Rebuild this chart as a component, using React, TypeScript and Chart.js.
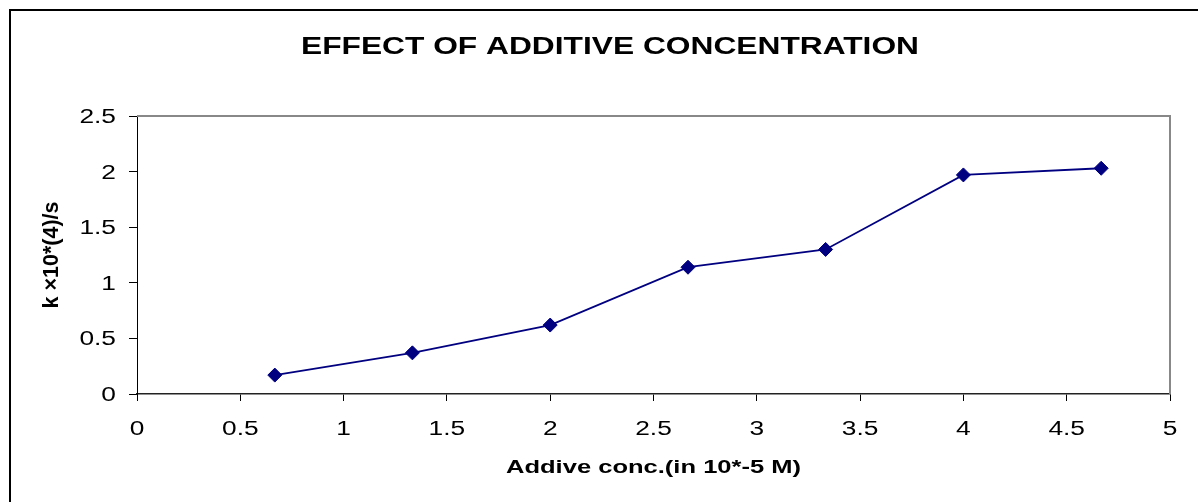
import React, { useEffect, useRef } from "react";
import { Chart, registerables } from "chart.js";

Chart.register(...registerables);

// ---- data ----
const concentrations: number[] = [0.667, 1.333, 2.0, 2.667, 3.333, 4.0, 4.667];
const rateConstants: number[] = [0.17, 0.37, 0.62, 1.14, 1.3, 1.97, 2.03];
const xTickValues: number[] = [0, 0.5, 1, 1.5, 2, 2.5, 3, 3.5, 4, 4.5, 5];
const yTickValues: number[] = [0, 0.5, 1, 1.5, 2, 2.5];
const chartTitle = "EFFECT OF ADDITIVE CONCENTRATION";
const xAxisTitle = "Addive conc.(in 10*-5 M)";
const yAxisTitle = "k ×10*(4)/s";

const FONT = '"Liberation Sans", Arial, sans-serif';

function drawStretched(
  ctx: CanvasRenderingContext2D,
  text: string,
  x: number,
  y: number,
  font: string,
  sx: number,
  align: CanvasTextAlign
) {
  ctx.save();
  ctx.translate(x, y);
  ctx.scale(sx, 1);
  ctx.font = font;
  ctx.textAlign = align;
  ctx.textBaseline = "alphabetic";
  ctx.fillStyle = "#000";
  ctx.fillText(text, 0, 0);
  ctx.restore();
}

const textPlugin = {
  id: "excelText",
  beforeDraw(chart: any) {
    const ctx: CanvasRenderingContext2D = chart.ctx;
    ctx.save();
    ctx.fillStyle = "#fff";
    ctx.fillRect(0, 0, chart.width, chart.height);
    ctx.fillStyle = "#000";
    ctx.fillRect(9, 9, chart.width - 9, 2);
    ctx.fillRect(9, 9, 2, chart.height - 9);
    ctx.restore();
  },
  afterDraw(chart: any) {
    const ctx: CanvasRenderingContext2D = chart.ctx;
    const { left, right, top, bottom } = chart.chartArea;
    // plot frame (top and right)
    ctx.save();
    ctx.strokeStyle = "#888";
    ctx.lineWidth = 2;
    ctx.beginPath();
    ctx.moveTo(left, top);
    ctx.lineTo(right, top);
    ctx.lineTo(right, bottom);
    ctx.stroke();
    ctx.restore();

    // title
    drawStretched(ctx, chartTitle, 610, 54, `bold 23.5px ${FONT}`, 1.35, "center");

    // y tick labels
    const ys = chart.scales.y;
    ys.ticks.forEach((t: any) => {
      const py = ys.getPixelForValue(t.value);
      drawStretched(ctx, String(t.value), left - 21, py + 7, `19.5px ${FONT}`, 1.35, "right");
    });
    // x tick labels
    const xs = chart.scales.x;
    xs.ticks.forEach((t: any) => {
      const px = xs.getPixelForValue(t.value);
      drawStretched(ctx, String(t.value), px, bottom + 41, `19.5px ${FONT}`, 1.35, "center");
    });

    // x axis title
    drawStretched(ctx, xAxisTitle, (left + right) / 2, bottom + 79, `bold 18.5px ${FONT}`, 1.38, "center");

    // y axis title (rotated)
    ctx.save();
    ctx.translate(left - 79, (top + bottom) / 2);
    ctx.rotate(-Math.PI / 2);
    ctx.font = `bold 21.5px ${FONT}`;
    ctx.textAlign = "center";
    ctx.textBaseline = "alphabetic";
    ctx.fillStyle = "#000";
    ctx.fillText(yAxisTitle, 0, 0);
    ctx.restore();
  },
};

export default function App() {
  const canvasRef = useRef<HTMLCanvasElement | null>(null);

  useEffect(() => {
    document.body.style.margin = "0";
    document.body.style.overflow = "hidden";
    const canvas = canvasRef.current;
    if (!canvas) return;
    const chart = new Chart(canvas, {
      type: "scatter",
      data: {
        datasets: [
          {
            data: concentrations.map((x, i) => ({ x, y: rateConstants[i] })),
            showLine: true,
            borderColor: "#000080",
            backgroundColor: "#000080",
            borderWidth: 1.8,
            pointStyle: "rectRot",
            pointRadius: 7,
            pointHoverRadius: 7,
            pointBorderWidth: 1,
            pointBorderColor: "#000080",
            pointBackgroundColor: "#000080",
          },
        ],
      },
      options: {
        animation: false,
        responsive: true,
        maintainAspectRatio: false,
        layout: { padding: { left: 0, top: 116, right: 28, bottom: 0 } },
        plugins: {
          legend: { display: false },
          title: { display: false },
          tooltip: { enabled: false },
        },
        scales: {
          x: {
            type: "linear",
            min: 0,
            max: 5,
            afterBuildTicks: (s: any) => {
              s.ticks = xTickValues.map((v) => ({ value: v }));
            },
            ticks: { display: false },
            grid: {
              drawOnChartArea: false,
              drawTicks: true,
              tickLength: 7,
              color: "#000",
              lineWidth: 1,
            },
            border: { display: true, color: "#222", width: 1.5 },
            afterFit: (s: any) => {
              s.height = 108;
            },
          },
          y: {
            type: "linear",
            min: 0,
            max: 2.5,
            afterBuildTicks: (s: any) => {
              s.ticks = yTickValues.map((v) => ({ value: v }));
            },
            ticks: { display: false },
            grid: {
              drawOnChartArea: false,
              drawTicks: true,
              tickLength: 8,
              color: "#000",
              lineWidth: 1,
            },
            border: { display: true, color: "#000", width: 1 },
            afterFit: (s: any) => {
              s.width = 137;
            },
          },
        },
      },
      plugins: [textPlugin],
    });
    return () => chart.destroy();
  }, []);

  return (
    <div style={{ position: "relative", width: 1198, height: 502 }}>
      <canvas ref={canvasRef} />
    </div>
  );
}
